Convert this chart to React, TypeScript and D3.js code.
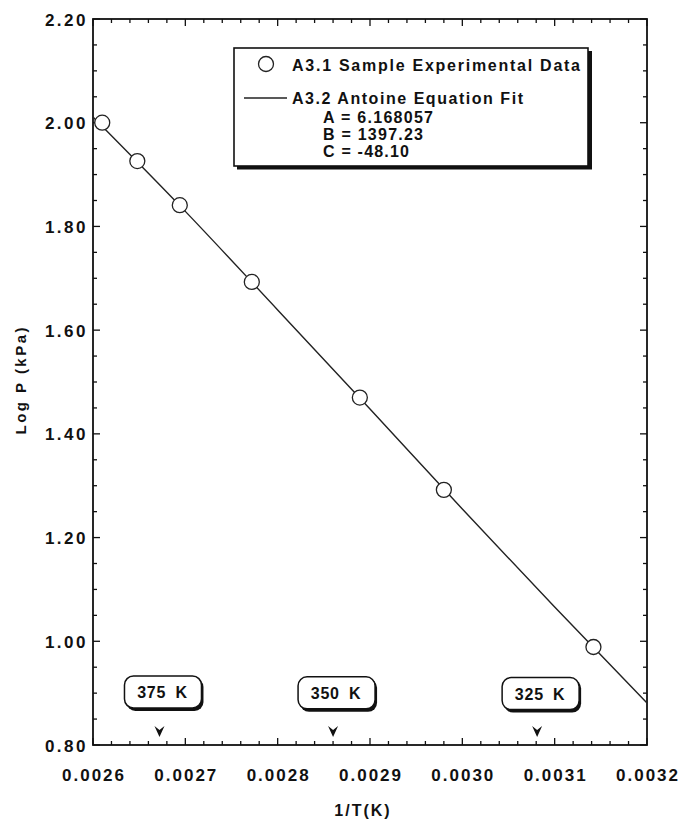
import * as d3 from "d3";

// experimental points: 1/T (1/K), log P (kPa)
const expX = [0.00261, 0.002648, 0.002694, 0.002772, 0.002889, 0.00298, 0.003142];
const expY = [2.0, 1.926, 1.841, 1.693, 1.47, 1.292, 0.989];

// Antoine fit curve
const fitX = [0.0026, 0.0027, 0.0028, 0.0029, 0.003, 0.0031, 0.0032];
const fitY = [2.011, 1.829, 1.639, 1.448, 1.255, 1.066, 0.881];

// temperature markers along the bottom
const tempLabels = ["375 K", "350 K", "325 K"];
const tempX = [0.002672, 0.00286, 0.003081];

const xTicks = [0.0026, 0.0027, 0.0028, 0.0029, 0.003, 0.0031, 0.0032];
const yTicks = [0.8, 1.0, 1.2, 1.4, 1.6, 1.8, 2.0, 2.2];

const legendLines = [
  "A3.1 Sample Experimental Data",
  "A3.2 Antoine Equation Fit",
  "A = 6.168057",
  "B = 1397.23",
  "C = -48.10",
];

const FONT = "'Liberation Sans', Arial, Helvetica, sans-serif";

export default function App() {
  const W = 687;
  const H = 819;
  const left = 93, right = 647, top = 19, bottom = 745;

  const x = d3.scaleLinear().domain([0.0026, 0.0032]).range([left, right]);
  const y = d3.scaleLinear().domain([0.8, 2.2]).range([bottom, top]);

  const minorX = d3.range(0, 31).map((i) => 0.0026 + i * 0.00002);
  const minorY = d3.range(0, 29).map((i) => 0.8 + i * 0.05);

  const line = d3
    .line<number>()
    .x((_, i) => x(fitX[i]))
    .y((d) => y(d))
    .curve(d3.curveMonotoneX);

  const isMajorX = (v: number) => xTicks.some((t) => Math.abs(t - v) < 1e-9);
  const isMajorY = (v: number) => yTicks.some((t) => Math.abs(t - v) < 1e-6);

  const legendWidths = [288, 231, 110, 100, 86];
  const legendPos = [
    [292, 71],
    [292, 104],
    [323, 123],
    [323, 140],
    [323, 157],
  ];

  return (
    <svg
      width={W}
      height={H}
      style={{ position: "absolute", left: 0, top: 0, background: "#fff" }}
      fontFamily={FONT}
    >
      <rect x={0} y={0} width={W} height={H} fill="#fff" />

      {/* ticks on all four sides, pointing inward */}
      <g stroke="#111" strokeWidth={1.3}>
        {minorX.map((v, i) => {
          const len = isMajorX(v) ? 7 : 4;
          return (
            <g key={"xt" + i}>
              <line x1={x(v)} x2={x(v)} y1={bottom} y2={bottom - len} />
              <line x1={x(v)} x2={x(v)} y1={top} y2={top + len} />
            </g>
          );
        })}
        {minorY.map((v, i) => {
          const len = isMajorY(v) ? 7 : 4;
          return (
            <g key={"yt" + i}>
              <line x1={left} x2={left + len} y1={y(v)} y2={y(v)} />
              <line x1={right} x2={right - len} y1={y(v)} y2={y(v)} />
            </g>
          );
        })}
      </g>

      {/* frame */}
      <rect
        x={left}
        y={top}
        width={right - left}
        height={bottom - top}
        fill="none"
        stroke="#111"
        strokeWidth={1.8}
      />

      {/* tick labels */}
      <g fontWeight="bold" fontSize={17} fill="#111">
        {xTicks.map((t) => (
          <text
            key={"xl" + t}
            x={x(t) + 1}
            y={781}
            textAnchor="middle"
            letterSpacing={2}
          >
            {t.toFixed(4)}
          </text>
        ))}
        {yTicks.map((t) => (
          <text
            key={"yl" + t}
            x={88}
            y={y(t) + 6.5}
            textAnchor="end"
            letterSpacing={2.5}
          >
            {t.toFixed(2)}
          </text>
        ))}
      </g>

      {/* axis titles */}
      <text
        x={0}
        y={0}
        transform={`translate(26, 381) rotate(-90)`}
        textAnchor="middle"
        fontWeight="bold"
        fontSize={15}
        textLength={107}
        lengthAdjust="spacing"
        fill="#111"
      >
        Log P (kPa)
      </text>
      <text
        x={363}
        y={816}
        textAnchor="middle"
        fontWeight="bold"
        fontSize={16}
        letterSpacing={2}
        fill="#111"
      >
        1/T(K)
      </text>

      {/* fit line */}
      <path d={line(fitY) || ""} fill="none" stroke="#222" strokeWidth={1.4} />

      {/* experimental points */}
      {expX.map((v, i) => (
        <circle
          key={"p" + i}
          cx={x(v)}
          cy={y(expY[i])}
          r={7.5}
          fill="#fff"
          stroke="#222"
          strokeWidth={1.3}
        />
      ))}

      {/* legend */}
      <rect x={237} y={51} width={355} height={118.5} fill="#111" />
      <rect
        x={234}
        y={48}
        width={354}
        height={118}
        fill="#fff"
        stroke="#111"
        strokeWidth={1.6}
      />
      <circle cx={266} cy={64} r={7.5} fill="#fff" stroke="#222" strokeWidth={1.3} />
      <line x1={244} x2={287} y1={98} y2={98} stroke="#222" strokeWidth={1.3} />
      {legendLines.map((s, i) => (
        <text
          key={"lg" + i}
          x={legendPos[i][0]}
          y={legendPos[i][1]}
          fontWeight="bold"
          fontSize={16}
          textLength={legendWidths[i]}
          lengthAdjust="spacing"
          fill="#111"
        >
          {s}
        </text>
      ))}

      {/* temperature markers */}
      {tempX.map((v, i) => {
        const cx = x(v) + 4;
        return (
          <g key={"tm" + i}>
            <rect x={cx - 37} y={678 + i * 0.8} width={77} height={33} rx={9} fill="#111" />
            <rect
              x={cx - 39}
              y={676 + i * 0.8}
              width={77}
              height={32}
              rx={9}
              fill="#fff"
              stroke="#111"
              strokeWidth={1.5}
            />
            <text
              x={cx - 1}
              y={698 + i * 0.8}
              textAnchor="middle"
              fontWeight="bold"
              fontSize={16}
              letterSpacing={0.8}
              wordSpacing={4}
              fill="#111"
            >
              {tempLabels[i]}
            </text>
            <path
              d={`M${x(v) - 5},${726} L${x(v)},${730} L${x(v) + 5},${726} L${x(v)},${737} Z`}
              fill="#111"
            />
          </g>
        );
      })}
    </svg>
  );
}
